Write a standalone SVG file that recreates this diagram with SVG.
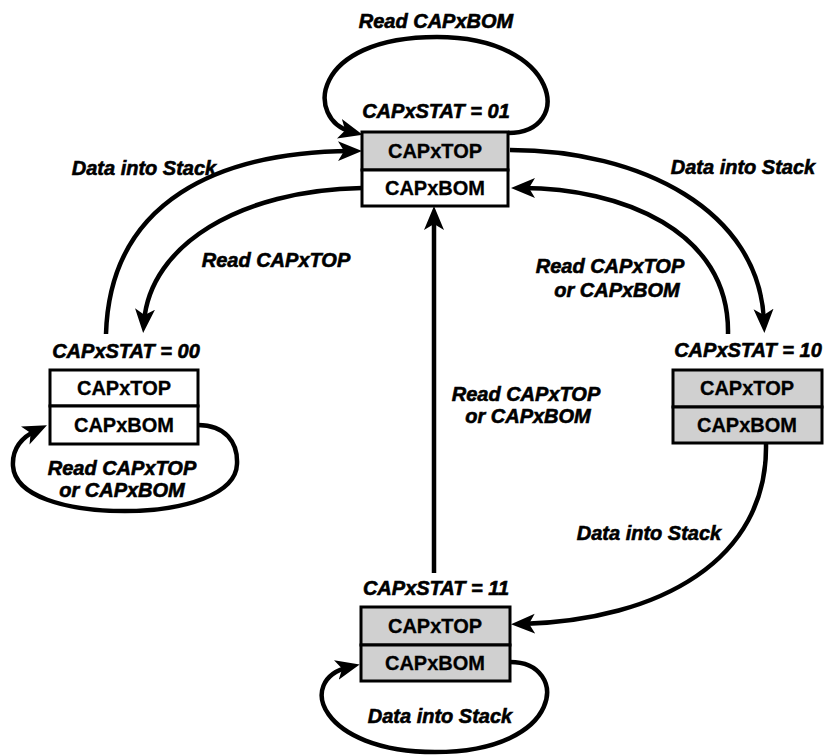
<svg xmlns="http://www.w3.org/2000/svg" width="826" height="756" viewBox="0 0 826 756">
<style>
.box{stroke:#000;stroke-width:3;}
.w{fill:#fff;}
.g{fill:#d0d0d0;}
.bt{font-family:"Liberation Sans",Arial,sans-serif;font-weight:bold;font-size:20px;text-anchor:middle;fill:#000;stroke:#000;stroke-width:0.3;}
.lb{font-family:"Liberation Sans",Arial,sans-serif;font-weight:bold;font-style:italic;font-size:20px;text-anchor:middle;fill:#000;stroke:#000;stroke-width:0.6;}
.c{fill:none;stroke:#000;stroke-width:4.5;marker-end:url(#ah);}
</style>
<defs>
<marker id="ah" markerUnits="userSpaceOnUse" markerWidth="26" markerHeight="22" refX="13" refY="10" orient="auto" viewBox="0 0 26 22">
<path d="M0,0 L24,10 L0,20 L6,10 z" fill="#000"/>
</marker>
</defs>
<rect width="826" height="756" fill="#fff"/>
<g id="connectors">
<path class="c" d="M508,133 C575,133 560,37 437,37 C310,37 305,120 352,132"/>
<path class="c" d="M106,334 C110,200 220,152 351,151"/>
<path class="c" d="M362,188 C240,190 150,245 144,322"/>
<path class="c" d="M510,150 C640,150 760,210 764,322"/>
<path class="c" d="M728,334 C730,230 620,188 522,188"/>
<path class="c" d="M434,573 L434,217"/>
<path class="c" d="M766,444 C768,560 660,620 522,624"/>
<path class="c" d="M198,425 C225,425 238,442 237,464 C236,494 185,511 125,511 C65,511 15,496 13,466 C12,450 20,438 37,430"/>
<path class="c" d="M510,662 C570,662 565,752 435,752 C320,752 295,680 349,667"/>
<text class="lb" x="436" y="28">Read CAPxBOM</text>
<text class="lb" x="144" y="175">Data into Stack</text>
<text class="lb" x="276" y="267">Read CAPxTOP</text>
<text class="lb" x="743" y="174">Data into Stack</text>
<text class="lb" x="610" y="273">Read CAPxTOP</text>
<text class="lb" x="617" y="297">or CAPxBOM</text>
<text class="lb" x="526" y="401">Read CAPxTOP</text>
<text class="lb" x="528" y="423">or CAPxBOM</text>
<text class="lb" x="122" y="475">Read CAPxTOP</text>
<text class="lb" x="122" y="497">or CAPxBOM</text>
<text class="lb" x="649" y="540">Data into Stack</text>
<text class="lb" x="440" y="723">Data into Stack</text>
</g>
<g id="state01">
<text class="lb" x="436" y="118">CAPxSTAT = 01</text>
<rect class="box g" x="362" y="132" width="146" height="38"/>
<rect class="box w" x="362" y="170" width="146" height="36"/>
<text class="bt" x="435" y="158">CAPxTOP</text>
<text class="bt" x="435" y="195">CAPxBOM</text>
</g>
<g id="state00">
<text class="lb" x="126" y="358">CAPxSTAT = 00</text>
<rect class="box w" x="50" y="370" width="148" height="36"/>
<rect class="box w" x="50" y="406" width="148" height="38"/>
<text class="bt" x="124" y="395">CAPxTOP</text>
<text class="bt" x="124" y="432">CAPxBOM</text>
</g>
<g id="state10">
<text class="lb" x="748" y="357">CAPxSTAT = 10</text>
<rect class="box g" x="673" y="370" width="149" height="37"/>
<rect class="box g" x="673" y="407" width="149" height="36"/>
<text class="bt" x="747" y="395">CAPxTOP</text>
<text class="bt" x="747" y="432">CAPxBOM</text>
</g>
<g id="state11">
<text class="lb" x="436" y="595">CAPxSTAT = 11</text>
<rect class="box g" x="361" y="607" width="149" height="38"/>
<rect class="box g" x="361" y="645" width="149" height="36"/>
<text class="bt" x="435" y="633">CAPxTOP</text>
<text class="bt" x="435" y="670">CAPxBOM</text>
</g>
</svg>
